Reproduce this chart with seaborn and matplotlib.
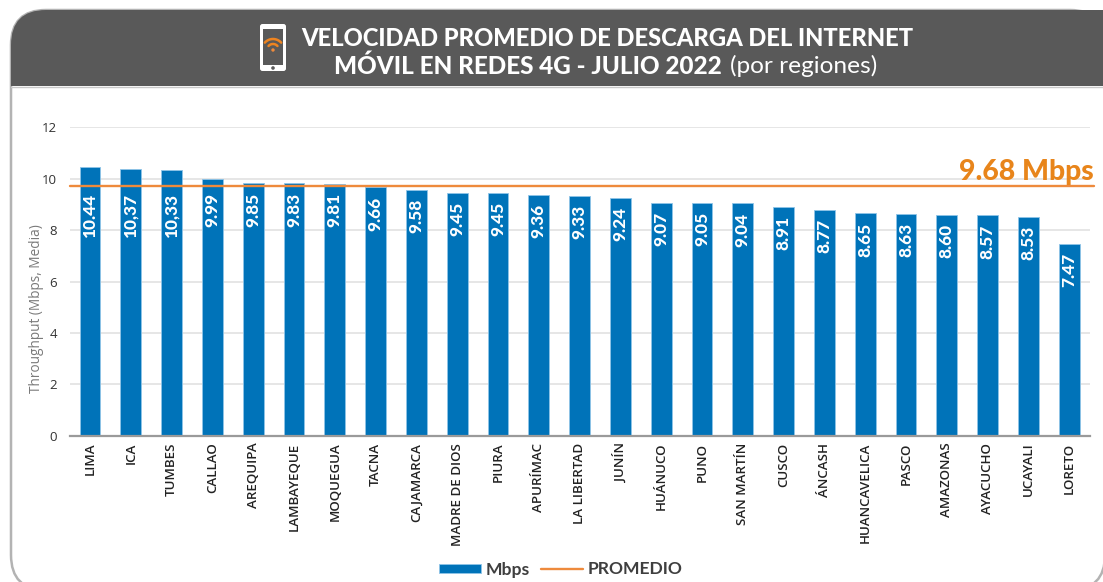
import numpy as np
import pandas as pd
import matplotlib
matplotlib.use("Agg")
import matplotlib.pyplot as plt
from matplotlib.patches import FancyBboxPatch, Rectangle, Circle
import seaborn as sns

regiones = ["LIMA", "ICA", "TUMBES", "CALLAO", "AREQUIPA", "LAMBAYEQUE", "MOQUEGUA", "TACNA",
            "CAJAMARCA", "MADRE DE DIOS", "PIURA", "APURÍMAC", "LA LIBERTAD", "JUNÍN", "HUÁNUCO",
            "PUNO", "SAN MARTÍN", "CUSCO", "ÁNCASH", "HUANCAVELICA", "PASCO", "AMAZONAS",
            "AYACUCHO", "UCAYALI", "LORETO"]
mbps = [10.44, 10.37, 10.33, 9.99, 9.85, 9.83, 9.81, 9.66, 9.58, 9.45, 9.45, 9.36, 9.33, 9.24,
        9.07, 9.05, 9.04, 8.91, 8.77, 8.65, 8.63, 8.60, 8.57, 8.53, 7.47]
etiquetas = ["10.44", "10,37", "10,33", "9.99", "9.85", "9.83", "9.81", "9.66", "9.58", "9.45",
             "9.45", "9.36", "9.33", "9.24", "9.07", "9.05", "9.04", "8.91", "8.77", "8.65",
             "8.63", "8.60", "8.57", "8.53", "7.47"]
promedio_linea = 9.72
promedio_texto = "9.68 Mbps"
titulo_1 = "VELOCIDAD PROMEDIO DE DESCARGA DEL INTERNET"
titulo_2 = "MÓVIL EN REDES 4G - JULIO 2022"
titulo_3 = "(por regiones)"

AZUL, NARANJA, GRIS = "#0073b9", "#ee8a3c", "#595959"
W, H = 1103, 582

sns.set_theme(style="white")
plt.rcParams["font.family"] = ["Open Sans", "DejaVu Sans"]

fig = plt.figure(figsize=(W / 100, H / 100), dpi=100, facecolor="white")

# Decorative frame, header and phone icon, in pixel coordinates
bg = fig.add_axes([0, 0, 1, 1], zorder=0)
bg.set_xlim(0, W); bg.set_ylim(H, 0); bg.axis("off")
frame = FancyBboxPatch((11 + 35, 10 + 35), 1105 - 11 - 70, 590 - 10 - 70,
                       boxstyle="round,pad=35,rounding_size=35",
                       fc="white", ec="#b3b3b3", lw=1.8, clip_on=False)
bg.add_patch(frame)
header = Rectangle((0, 0), 100, 86, fc=GRIS, ec="none")
bg.add_patch(header)
header.set_clip_path(frame)
bg.add_patch(Rectangle((100, 10), W - 100, 76, fc=GRIS, ec="none"))
bg.plot([11, W], [86.5, 86.5], color="#c9c9c9", lw=1)

bg.add_patch(FancyBboxPatch((261, 25), 24, 45, boxstyle="round,pad=1,rounding_size=2.5", fc="white", ec="none"))
bg.add_patch(Rectangle((263, 29), 20, 35.5, fc=GRIS, ec="none"))
bg.add_patch(Circle((273, 68), 1.8, fc=GRIS, ec="none"))
bg.add_patch(Circle((273, 50), 1.7, fc=NARANJA, ec="none"))
for r in (6, 11):
    t = np.radians(np.linspace(222, 318, 40))
    bg.plot(273 + r * np.cos(t), 50 + r * np.sin(t), color="#ee8420", lw=1.8, solid_capstyle="round")

bg.text(607.5, 38, titulo_1, color="white", family="Lato", weight="black", fontsize=17.15,
        ha="center", va="center")
bg.text(722, 66, titulo_2, color="white", family="Lato", weight="black", fontsize=17.5,
        ha="right", va="center")
bg.text(730, 66, titulo_3, color="white", family="Lato", weight="regular", fontsize=17.6,
        ha="left", va="center")

# Chart
left, right, top, bottom = 69.6, 1089.6, 127.3, 435.8
ax = fig.add_axes([left / W, 1 - bottom / H, (right - left) / W, (bottom - top) / H], zorder=1)
ax.patch.set_alpha(0)

df = pd.DataFrame({"Región": regiones, "Mbps": mbps})
sns.barplot(data=df, x="Región", y="Mbps", color=AZUL, saturation=1, width=0.51, ax=ax,
            label="Mbps", edgecolor="#8fc4e8", linewidth=0.6, zorder=2)
ax.axhline(promedio_linea, xmin=0, xmax=1.004, color=NARANJA, lw=1.7, clip_on=False, zorder=3,
           label="PROMEDIO")

ax.set_xlim(-0.5, len(regiones) - 0.5)
ax.set_ylim(0, 12)
ax.set_yticks(range(0, 13, 2))
ax.grid(axis="y", color="#e2e2e2", lw=1.2)
ax.grid(axis="x", visible=False)
ax.set_axisbelow(True)
sns.despine(ax=ax, left=True)
ax.spines["bottom"].set_color("#9a9a9a")
ax.spines["bottom"].set_linewidth(1.6)
ax.tick_params(axis="y", length=0, pad=9, labelsize=9.5, labelcolor="#333333")
ax.tick_params(axis="x", length=0, pad=5, labelsize=9.6, labelcolor="#222222", rotation=90)
for lab in ax.get_xticklabels():
    lab.set_fontweight("semibold")
ax.set_xlabel("")
ax.set_ylabel("Throughput (Mbps, Media)", color="#7a7a7a", fontsize=9.8)
ax.yaxis.set_label_coords((44 - left) / (right - left), (bottom - 309) / (bottom - top))

for i, (v, s) in enumerate(zip(mbps, etiquetas)):
    ax.text(i, min(v - 0.35, 9.45), s, rotation=90, ha="center", va="top", color="white",
            family="Lato", weight="black", fontsize=12.4, zorder=4)

ax.text(1.004, promedio_linea + 0.02, promedio_texto, transform=ax.get_yaxis_transform(),
        ha="right", va="bottom", color="#e8851b", family="Lato", weight="black", fontsize=20.4,
        clip_on=False, zorder=4)

h, l = ax.get_legend_handles_labels()
order = [l.index("Mbps"), l.index("PROMEDIO")]
leg = ax.legend([h[i] for i in order], [l[i] for i in order],
                loc="center", bbox_to_anchor=(561 / W, 1 - 569.5 / H), bbox_transform=fig.transFigure,
                ncol=2, frameon=False, handlelength=2.35, handleheight=0.45,
                columnspacing=0.65, handletextpad=0.3, borderpad=0, labelcolor="#3f3f3f",
                prop={"family": "Lato", "weight": "bold", "size": 12.6})

fig.savefig("out.png", dpi=100)
